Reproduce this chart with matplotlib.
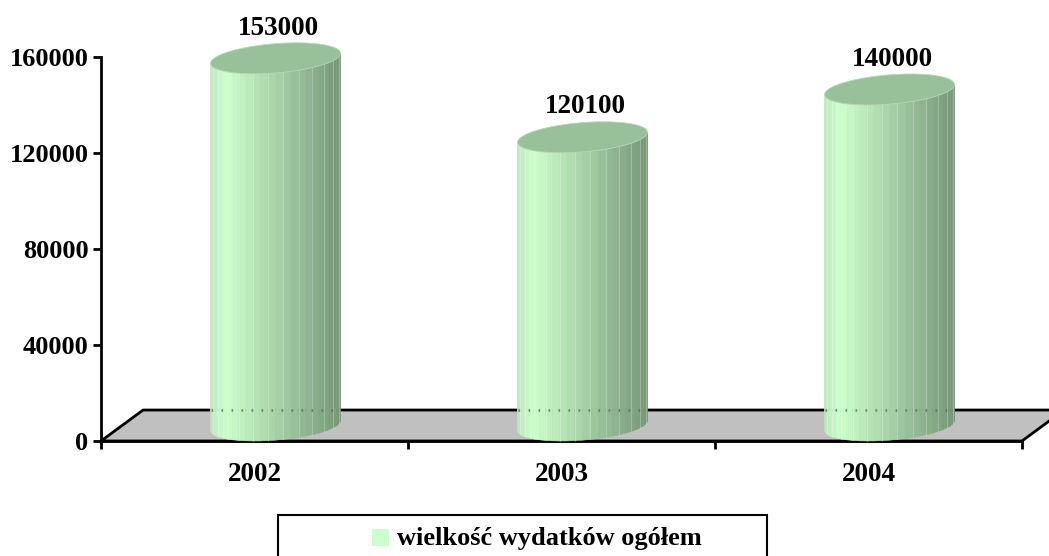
import numpy as np
import matplotlib
matplotlib.use("Agg")
import matplotlib.pyplot as plt
from matplotlib.patches import Polygon, Rectangle
from matplotlib.colors import to_rgb

years = ["2002", "2003", "2004"]
spending = [153000, 120100, 140000]
y_ticks = [0, 40000, 80000, 120000, 160000]
legend_label = "wielkość wydatków ogółem"

plt.rcParams["font.family"] = ["Liberation Serif", "DejaVu Serif"]
plt.rcParams["font.weight"] = "bold"

W, H = 1049, 556
fig = plt.figure(figsize=(W / 100, H / 100), dpi=100)
ax = fig.add_axes([101 / W, 115 / H, 921 / W, 384 / H])
ax.set_xlim(-0.5, 2.5)
ax.set_ylim(0, 160000)

# oblique depth of the floor, in data units
dx, dy = 0.137, 12900
floor = Polygon([(-0.5, 0), (2.5, 0), (2.5 + dx, dy), (-0.5 + dx, dy)],
                closed=True, facecolor="#c0c0c0", edgecolor="black",
                linewidth=2, zorder=1, clip_on=False)
ax.add_patch(floor)

edge_l = np.array(to_rgb("#bfe6bf"))
light = np.array(to_rgb("#ccffcc"))
dark = np.array(to_rgb("#769676"))
top_color = "#99c199"
rx = 0.2
ex, ey = dx / 2, dy / 2
t0 = np.arctan2(ex, rx)
n_strips = 26


def shade(f):
    # brightest a little right of the left edge, darkening to the right
    if f < 0.12:
        return edge_l + (light - edge_l) * (f / 0.12)
    return light + (dark - light) * ((f - 0.12) / 0.88)


for i, v in enumerate(spending):
    cx = i + dx / 2
    yb = dy / 2
    yt = v + dy / 2
    ts = np.linspace(t0 + np.pi, t0 + 2 * np.pi, n_strips + 1)
    xs = cx + rx * np.cos(ts) + ex * np.sin(ts)
    offs = ey * np.sin(ts)
    xmin, xmax = xs.min(), xs.max()
    for k in range(n_strips):
        xm = 0.5 * (xs[k] + xs[k + 1])
        col = shade((xm - xmin) / (xmax - xmin))
        strip = Polygon([(xs[k], yb + offs[k]), (xs[k + 1], yb + offs[k + 1]),
                         (xs[k + 1], yt + offs[k + 1]), (xs[k], yt + offs[k])],
                        closed=True, facecolor=col, edgecolor=col,
                        linewidth=0.4, zorder=3, clip_on=False)
        ax.add_patch(strip)
        if 0 < k and k % 2 == 0:
            ax.plot([xs[k], xs[k]], [yb + offs[k], yt + offs[k]],
                    color="white", alpha=0.25, linewidth=0.8, zorder=3.5,
                    clip_on=False)
    # back-floor line showing through the cylinder
    ax.plot([xmin, xmax], [dy, dy], linestyle=(0, (0.6, 3.0)), color="#4f6a4f",
            linewidth=2, alpha=0.7, zorder=4, clip_on=False)
    tt = np.linspace(0, 2 * np.pi, 120)
    top = np.column_stack([cx + rx * np.cos(tt) + ex * np.sin(tt),
                           yt + ey * np.sin(tt)])
    ax.add_patch(Polygon(top, closed=True, facecolor=top_color,
                         edgecolor="#b5d5b5", linewidth=0.6, zorder=5,
                         clip_on=False))
    ax.annotate(f"{v}", (cx, yt + ey), xytext=(2, 6), textcoords="offset points",
                ha="center", va="baseline", fontsize=19.5, fontweight="bold",
                zorder=6, annotation_clip=False)

for s in ["top", "right"]:
    ax.spines[s].set_visible(False)
ax.spines["left"].set_linewidth(2)
ax.spines["bottom"].set_linewidth(2)
ax.spines["bottom"].set_zorder(2)

ax.set_yticks(y_ticks)
ax.set_yticklabels([str(t) for t in y_ticks], fontsize=19, fontweight="bold")
ax.tick_params(axis="y", direction="out", length=6, width=2, pad=3)
ax.set_xticks(range(len(years)))
ax.set_xticklabels(years, fontsize=19.5, fontweight="bold")
ax.set_xticks(np.arange(-0.5, len(years)), minor=True)
ax.tick_params(axis="x", which="major", length=0, pad=15)
ax.tick_params(axis="x", which="minor", direction="out", length=6, width=2)

# legend box, partly cut off by the bottom edge as in the original
fig.patches.append(Rectangle((278 / W, -12 / H), 489 / W, 53 / H,
                             transform=fig.transFigure, facecolor="white",
                             edgecolor="black", linewidth=1.5, clip_on=False))
fig.patches.append(Rectangle((372 / W, 10 / H), 17 / W, 17 / H,
                             transform=fig.transFigure, facecolor="#ccffcc",
                             edgecolor="none"))
fig.text(397 / W, 18 / H, legend_label, fontsize=19, fontweight="bold",
         ha="left", va="center")

fig.savefig("out.png", dpi=100)
